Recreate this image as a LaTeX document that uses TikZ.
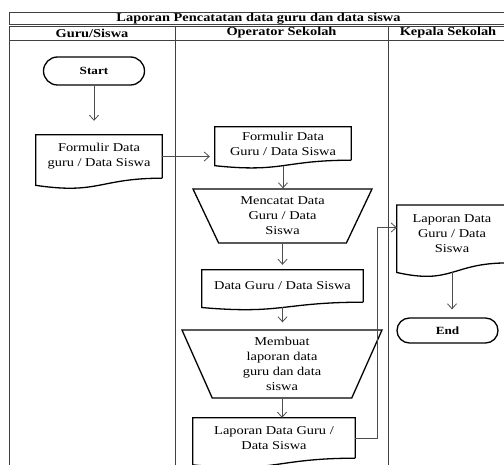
\documentclass[tikz,border=0pt]{standalone}
\usepackage{fontspec}
\setmainfont[FakeStretch=1.2]{Liberation Serif}
\usetikzlibrary{shapes.geometric,shapes.misc,calc,arrows.meta}

% outline of a document box, wavy bottom below the node
\newcommand{\docoutline}[1]{%
  \draw[shapeline] (#1.south east) -- (#1.north east) -- (#1.north west)
    -- ($(#1.north west)!1.1646!(#1.south west)$)
    .. controls ($(#1.north)!1.381!(#1.south)$) and (#1.south) .. (#1.south east);
  \coordinate (#1-bot) at ($(#1.north)!1.163!(#1.south)$);
}

\begin{document}
\begin{tikzpicture}[x=1pt,y=-1pt]
      \tikzset{>={Straight Barb[length=5pt,width=9pt]},
        every node/.style={font=\fontsize{12}{15}\selectfont, align=center, inner sep=0pt},
        header/.style={font=\bfseries\fontsize{12}{15}\selectfont},
        lane/.style={draw=black!75, line width=0.8pt},
        shapeline/.style={draw=black, line width=1.3pt},
        terminal/.style={rounded rectangle, shapeline, minimum width=101pt, minimum height=28pt,
          font=\bfseries\fontsize{11}{14}\selectfont},
        docbox/.style={draw=none},
        manual/.style={trapezium, shape border rotate=180, trapezium stretches body=true, shapeline},
        flow/.style={->, draw=black!70, line width=0.8pt}}

      \useasboundingbox (0,0) rectangle (504,465);
      \clip (0,0) rectangle (504,465);

      % swimlane frame
      \draw[lane] (9,12) rectangle (508,24.5);
      \draw[lane] (9,26.5) rectangle (508,40);
      \draw[lane] (9,26.5) -- (9,470);
      \draw[lane] (175,26.5) -- (175,470);
      \draw[lane] (388,26.5) -- (388,470);
      \draw[lane] (508,26.5) -- (508,470);

      \node[header] (title) at (258.5,18.5) {Laporan Pencatatan data guru dan data siswa};
      \node[header] (guru) at (92,33) {Guru/Siswa};
      \node[header] (operator) at (281.5,33) {Operator Sekolah};
      \node[header] (kepala) at (448,33) {Kepala Sekolah};

      % flow
      \node[terminal] (start) at (94,71) {Start};
      \node[docbox, minimum width=126pt, minimum height=43pt] (form1) at (99,156.5) {Formulir Data\\guru / Data Siswa};
      \node[docbox, minimum width=136pt, minimum height=33pt] (form2) at (283,143.5) {Formulir Data\\Guru / Data Siswa};
      \node[manual, minimum width=179pt, minimum height=54pt, trapezium angle=56] (catat) at (282.5,216) {Mencatat Data\\Guru / Data\\Siswa};
      \node[docbox, minimum width=161pt, minimum height=32pt] (data) at (282.5,286) {Data Guru / Data Siswa};
      \node[manual, minimum width=200pt, minimum height=68pt, trapezium angle=60.5] (buat) at (282,364) {Membuat\\laporan data\\guru dan data\\siswa};
      \node[docbox, minimum width=162pt, minimum height=40pt] (lap1) at (274,438) {Laporan Data Guru /\\Data Siswa};
      \node[docbox, minimum width=110pt, minimum height=57.5pt] (lap2) at (452,234) {Laporan Data\\Guru / Data\\Siswa};
      \node[terminal, minimum height=25pt] (stop) at (447.5,330.5) {End};

      \docoutline{form1}
      \docoutline{form2}
      \docoutline{data}
      \docoutline{lap1}
      \docoutline{lap2}

      \draw[flow, shorten >=14pt] (start.south) -- (start.south |- form1.north);
      \draw[flow, shorten >=5pt] (form1.east) -- (form1.east -| form2.west);
      \draw[flow] (form2-bot) -- (form2-bot |- catat.north);
      \draw[flow, shorten >=5pt] (catat.south) -- (catat.south |- data.north);
      \draw[flow, shorten >=7pt] (data-bot) -- (data-bot |- buat.north);
      \draw[flow] (buat.south) -- (buat.south |- lap1.north);
      \draw[flow] (lap1.east) -- ++(22,0) |- ([yshift=6.5pt]lap2.west);
      \draw[flow, shorten >=8pt] (lap2-bot) -- (lap2-bot |- stop.north);
\end{tikzpicture}
\end{document}
